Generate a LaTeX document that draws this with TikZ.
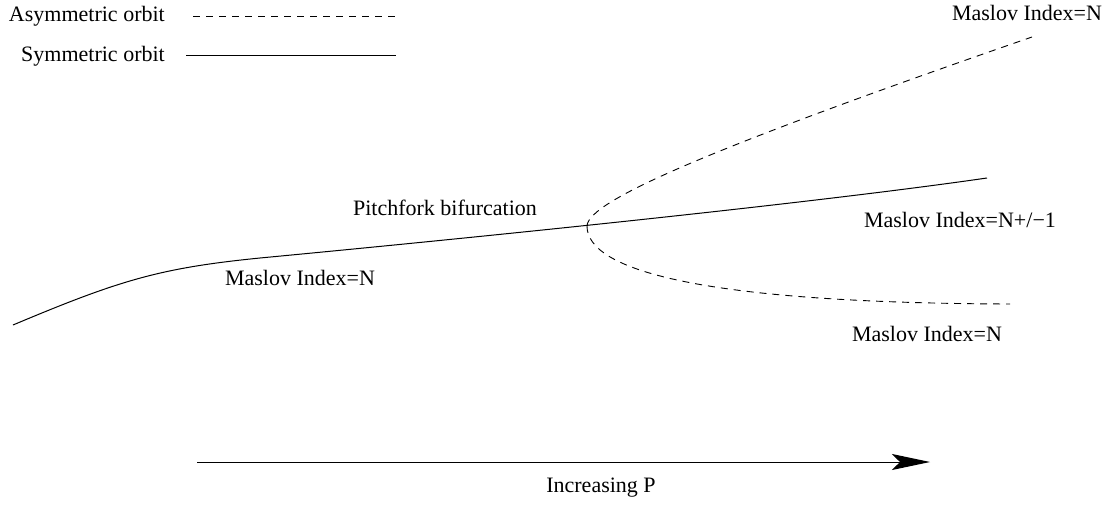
\documentclass[tikz,border=0pt]{standalone}
\usepackage{fontspec}
\newfontfamily\timesfont{Liberation Serif}
\usepackage{tikz}
\usetikzlibrary{arrows.meta,positioning}

\begin{document}
\begin{tikzpicture}[
    x=1pt, y=-1pt,
    label/.style={inner sep=0pt, font=\timesfont\fontsize{22}{26}\selectfont},
    asym/.style={line width=0.9pt, dash pattern=on 7pt off 6pt},
    sym/.style={line width=1pt},
    arrow/.style={-{Stealth[length=38pt, width=16pt, inset=8pt]}, line width=1pt}
]
    \useasboundingbox (0,0) rectangle (1119,505);

    % legend
    \node[label, anchor=east] (asymtxt) at (165,16) {Asymmetric orbit};
    \node[label, anchor=east] (symtxt)  at (165,56) {Symmetric orbit};
    \coordinate (asymA) at (193,16);
    \coordinate (asymB) at (396,16);
    \coordinate (symA)  at (186,56);
    \coordinate (symB)  at (396,56);
    \draw[asym] (asymA) -- (asymB);
    \draw[sym]  (symA) -- (symB);

    % branches
    \coordinate (start) at (13,325);
    \coordinate (knee)  at (260,258);
    \coordinate (fork)  at (587,226);
    \coordinate (symend) at (987,178);
    \coordinate (upend)  at (1032,37);
    \coordinate (lowend) at (1010,304);
    \draw[sym] (start) .. controls (120,280) and (160,268) .. (knee)
                       .. controls (450,240) and (800,205) .. (symend);
    \draw[asym] (fork) .. controls (588,200) and (720,145) .. (upend);
    \draw[asym] (fork) .. controls (587,270) and (700,303) .. (lowend);

    \node[label] (idxtop) at (1027,13)  {Maslov Index=N};
    \node[label] (pitch)  at (445,208)  {Pitchfork bifurcation};
    \node[label] (idxsym) at (300,278)  {Maslov Index=N};
    \node[label] (idxmid) at (960,220)  {Maslov Index=N+/−1};
    \node[label] (idxlow) at (927,334)  {Maslov Index=N};

    % parameter axis
    \coordinate (pA) at (197,462);
    \coordinate (pB) at (930,462);
    \draw[arrow] (pA) -- (pB);
    \node[label] (incr) at (601,488) {Increasing P};
\end{tikzpicture}
\end{document}
